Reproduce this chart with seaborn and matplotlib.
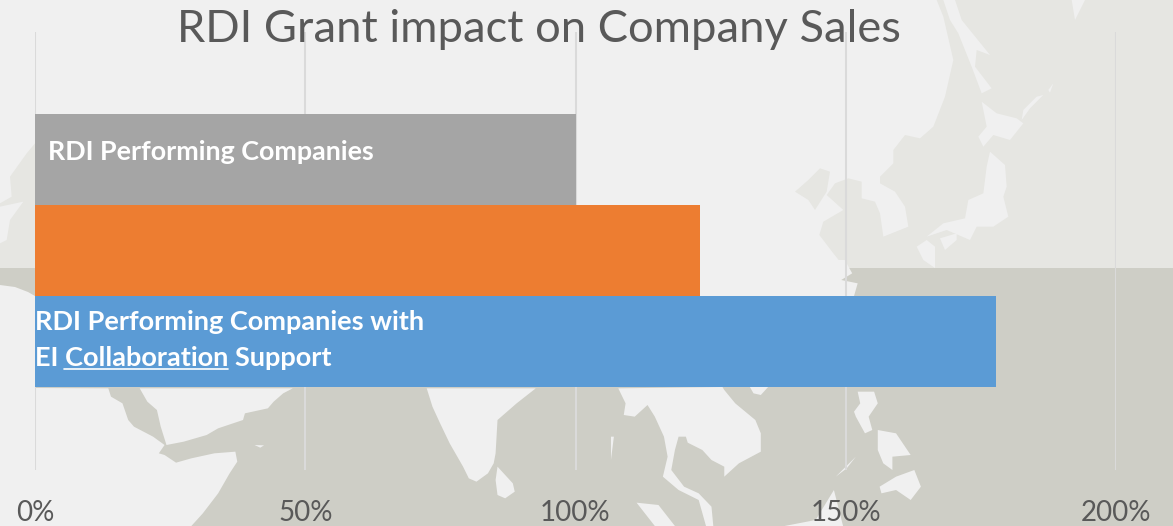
import matplotlib
matplotlib.use("Agg")
import matplotlib.pyplot as plt
from matplotlib.lines import Line2D
from matplotlib.patches import Polygon
import pandas as pd
import seaborn as sns

groups = ["RDI Performing Companies", "(unlabelled)", "RDI Performing Companies with EI Collaboration Support"]
sales = [100, 123, 177.8]
bar_colors = ["#a5a5a5", "#ed7d31", "#5b9bd5"]
ticks = [0, 50, 100, 150, 200]
tick_labels = ["0%", "50%", "100%", "150%", "200%"]

W, H = 1173, 526
BG = "#f0f0f0"
PALE = "#e6e6e2"
DARK = "#cecec6"
TEXT = "#595959"

def low_left(pts):
    return [(x / 2.613, 260 + y / 3) for x, y in pts]

def low_right(pts):
    return [(600 + x / 2.736, 260 + y / 3) for x, y in pts]

def up_right(pts):
    return [(780 + x / 3, y / 3) for x, y in pts]

def up_left(pts):
    return [(x / 3, y / 3) for x, y in pts]

pale_shapes = [
    up_right([(470, 0), (490, 50), (520, 180), (495, 290), (460, 380), (420, 415), (375, 405), (340, 450),
              (340, 490), (300, 530), (300, 550), (345, 575), (375, 620), (385, 680), (310, 710), (300, 640),
              (285, 605), (245, 595), (245, 545), (205, 535), (165, 550), (140, 585), (190, 630), (130, 665),
              (118, 705), (160, 760), (195, 804), (1179, 804), (1179, 0)]),
    up_right([(45, 575), (85, 540), (120, 505), (150, 515), (140, 575), (105, 630), (85, 600)]),
    up_left([(105, 430), (80, 460), (30, 530), (35, 590), (0, 610), (0, 804), (105, 804)]),
]
bg_on_pale = [
    up_right([(490, 0), (525, 0), (545, 60), (630, 165), (590, 150), (585, 200), (635, 265), (605, 280),
              (575, 200), (535, 100), (510, 60)]),
    up_right([(605, 305), (650, 340), (710, 355), (730, 370), (690, 420), (640, 405), (610, 440), (595, 410), (620, 380)]),
    up_right([(630, 455), (675, 495), (680, 560), (670, 590), (685, 650), (640, 680), (590, 680), (570, 720),
              (500, 690), (440, 710), (490, 670), (555, 655), (565, 600), (610, 580), (620, 500)]),
    up_right([(410, 740), (440, 720), (465, 740), (465, 804), (430, 780)]),
    up_right([(480, 715), (530, 700), (530, 720), (495, 750)]),
    up_right([(725, 360), (750, 325), (790, 285), (770, 290), (730, 330)]),
    up_right([(805, 270), (820, 250), (810, 278)]),
    up_right([(875, 0), (915, 0), (885, 60)]),
    up_left([(0, 620), (70, 605), (30, 660), (20, 720), (0, 730)]),
]
bg_on_dark = [
    [(0, 285), (15, 287), (28, 292), (35, 296), (35, 388)] + low_left([(283, 385), (290, 410), (320, 430), (335, 480),
     (350, 500), (400, 530), (430, 555), (415, 580), (430, 585), (460, 608), (500, 595), (560, 580), (615, 575),
     (620, 605), (600, 640), (570, 700), (530, 760), (500, 798)]) + [(0, 526)],
    low_left([(365, 385), (385, 425), (410, 450), (420, 500), (435, 555), (480, 545), (540, 525), (570, 505),
              (635, 480), (640, 460), (700, 445), (715, 425), (740, 400), (765, 385)]),
    low_left([(1115, 385), (1130, 440), (1150, 490), (1175, 550), (1210, 620), (1225, 655), (1245, 665),
              (1275, 640), (1290, 610), (1295, 580), (1300, 480), (1350, 430), (1400, 385)]),
    low_left([(1300, 620), (1340, 670), (1345, 695), (1320, 715), (1300, 705), (1295, 660)]),
    low_left([(665, 555), (690, 556), (680, 563)]),
    low_right([(50, 385), (70, 430), (65, 465), (95, 470), (130, 435), (150, 470), (175, 530), (185, 590),
               (172, 650), (215, 690), (270, 720), (290, 798), (310, 798), (305, 740), (270, 700), (230, 680),
               (195, 630), (205, 570), (215, 530), (235, 530), (240, 548), (280, 570), (305, 600), (340, 620),
               (340, 650), (380, 610), (440, 575), (440, 520), (425, 480), (370, 430), (340, 390), (335, 381)]),
    low_right([(100, 728), (160, 735), (205, 798), (150, 798)]),
    low_right([(505, 798), (590, 780), (640, 690), (665, 798)]),
    low_right([(410, 381), (460, 381), (440, 405), (420, 400)]),
    low_right([(705, 395), (750, 395), (760, 430), (735, 470), (745, 510), (725, 520), (700, 470), (695, 455), (712, 430)]),
    low_right([(760, 510), (810, 520), (850, 585), (800, 590), (800, 630), (775, 610), (760, 570)]),
    low_right([(765, 680), (810, 650), (860, 630), (878, 680), (850, 720), (810, 690), (770, 700)]),
    low_right([(645, 650), (700, 590), (675, 625)]),
    low_right([(30, 530), (38, 530), (30, 600)]),
    low_right([(0, 0), (670, 0), (690, 40), (660, 60), (705, 70), (695, 108), (0, 108)]),
]

sns.set_theme(style="white")
plt.rcParams["font.family"] = ["Lato", "DejaVu Sans"]

fig = plt.figure(figsize=(W / 100, H / 100), dpi=100, facecolor=BG)

bg = fig.add_axes([0, 0, 1, 1], zorder=0)
bg.set_xlim(0, W)
bg.set_ylim(H, 0)
bg.axis("off")
for pts in pale_shapes:
    bg.add_patch(Polygon(pts, closed=True, fc=PALE, ec="none"))
for pts in bg_on_pale:
    bg.add_patch(Polygon(pts, closed=True, fc=BG, ec="none"))
bg.fill_between([0, W], 268, H, color=DARK, lw=0)
for pts in bg_on_dark:
    bg.add_patch(Polygon(pts, closed=True, fc=BG, ec="none"))

# chart area: 0% at x=35, 200% at x=1116, gridlines from y=32 to y=470
ax = fig.add_axes([35 / W, 1 - 470 / H, (1116 - 35) / W, (470 - 32) / H], zorder=1)
ax.patch.set_alpha(0)

df = pd.DataFrame({"group": groups, "sales": sales})
sns.barplot(data=df, y="group", x="sales", hue="group", palette=bar_colors, width=1.0,
            dodge=False, legend=False, saturation=1, edgecolor="none", linewidth=0, ax=ax)

ax.set_xlim(0, 200)
ax.set_ylim(3.41, -1.40)
ax.set_xticks(ticks)
ax.set_xticklabels(tick_labels, fontsize=20, color=TEXT)
ax.set_yticks([])
ax.set_xlabel("")
ax.set_ylabel("")
ax.set_axisbelow(True)
ax.grid(axis="x", color="#dadada", lw=1.5)
ax.tick_params(axis="x", length=0, pad=21.5)
sns.despine(ax=ax, left=True, bottom=True)

fig.text(539 / W, 1 - 30 / H, "RDI Grant impact on Company Sales", fontsize=32.6, color=TEXT,
         ha="center", va="center")

fig.text(48 / W, 1 - 151.5 / H, "RDI Performing Companies", fontsize=19.4, color="white",
         ha="left", va="center", fontweight="bold", zorder=5)
fig.text(35 / W, 1 - 322.5 / H, "RDI Performing Companies with", fontsize=19.5, color="white",
         ha="left", va="center", fontweight="bold", zorder=5)
fig.text(35 / W, 1 - 357.5 / H, "EI Collaboration Support", fontsize=19.5, color="white",
         ha="left", va="center", fontweight="bold", zorder=5)
fig.add_artist(Line2D([64 / W, 228 / W], [1 - 369 / H, 1 - 369 / H], color="white", lw=1.2, zorder=5))

fig.savefig("out.png", dpi=100, facecolor=BG)
